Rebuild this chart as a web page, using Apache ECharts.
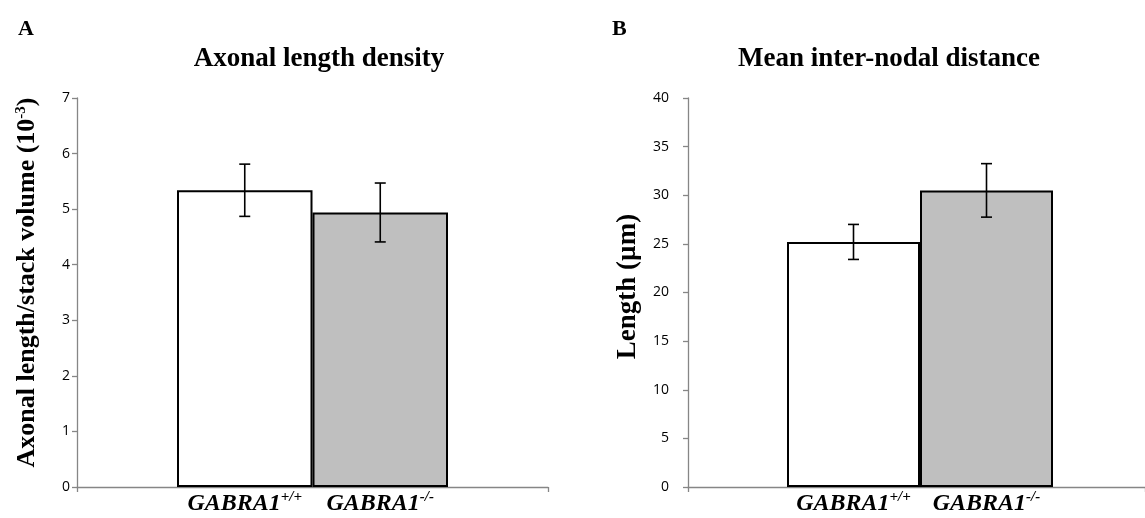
<!DOCTYPE html>
<html>
<head>
<meta charset="utf-8">
<script src="https://cdn.jsdelivr.net/npm/echarts@6/dist/echarts.min.js"></script>
<style>
html,body{margin:0;padding:0;background:#fff;}
#chart{width:1145px;height:518px;}
</style>
</head>
<body>
<div id="chart"></div>
<script>
// ---- data ----
const genotypes = ['GABRA1+/+', 'GABRA1-/-'];
const densityMean = [5.34, 4.94];
const densityErr = [0.47, 0.53];
const distanceMean = [25.2, 30.5];
const distanceErr = [1.8, 2.75];
const densityAxis = { min: 0, max: 7, interval: 1 };
const distanceAxis = { min: 0, max: 40, interval: 5 };
const panelTitles = ['Axonal length density', 'Mean inter-nodal distance'];
const panelLetters = ['A', 'B'];
const fillColors = ['#ffffff', '#bfbfbf'];

const serif = '"Liberation Serif", "Times New Roman", serif';
const sans = '"Open Sans", "Liberation Sans", sans-serif';
const axisGray = '#868686';

function genoLabel(v) {
  const m = v.match(/^(.*?)([+\-]\/[+\-])$/);
  return '{g|' + m[1] + '}{s|' + m[2] + '}';
}
const genoRich = {
  g: { fontFamily: serif, fontWeight: 'bold', fontStyle: 'italic', fontSize: 24, color: '#000' },
  s: { fontFamily: serif, fontWeight: 'bold', fontStyle: 'italic', fontSize: 15, color: '#000', padding: [0, 0, 12, 0] }
};

const chart = echarts.init(document.getElementById('chart'), null, { renderer: 'canvas' });

function frameGrid(left, right) { return { left: left, right: right, top: 98, bottom: 31, containLabel: false }; }

const grids = [
  frameGrid(77, 1145 - 548),
  frameGrid(177, 1145 - 448),
  frameGrid(688, 1145 - 1152),
  frameGrid(787, 1145 - 1053)
];

function frameX(gi) {
  return {
    type: 'category', gridIndex: gi, data: [''],
    axisLine: { lineStyle: { color: axisGray, width: 1.3 } },
    axisTick: { show: true, length: 5, lineStyle: { color: axisGray, width: 1.3 } },
    axisLabel: { show: false }
  };
}
function barX(gi) {
  return {
    type: 'category', gridIndex: gi, data: genotypes,
    axisLine: { show: false }, axisTick: { show: false },
    axisLabel: { formatter: genoLabel, rich: genoRich, margin: 3 }
  };
}
function frameY(gi, ax, name, nameGap, labelMargin, rich, pad, nameSize) {
  return {
    type: 'value', gridIndex: gi, min: ax.min, max: ax.max, interval: ax.interval,
    axisLine: { show: true, lineStyle: { color: axisGray, width: 1.3 } },
    axisTick: { show: true, length: 5, lineStyle: { color: axisGray, width: 1.3 } },
    axisLabel: { fontFamily: sans, fontSize: 14, color: '#000', margin: labelMargin },
    splitLine: { show: false },
    name: name, nameLocation: 'middle', nameGap: nameGap, nameRotate: 90,
    nameTextStyle: { fontFamily: serif, fontWeight: 'bold', fontSize: nameSize, color: '#000', rich: rich, padding: pad }
  };
}
function hiddenY(gi, ax) {
  return { type: 'value', gridIndex: gi, min: ax.min, max: ax.max, interval: ax.interval, show: false, splitLine: { show: false } };
}

const yNameRich = {
  n: { fontFamily: serif, fontWeight: 'bold', fontSize: 26, color: '#000' },
  s: { fontFamily: serif, fontWeight: 'bold', fontSize: 15, color: '#000', padding: [0, 0, 12, 0] }
};

function barSeries(xi, yi, means) {
  return {
    type: 'bar', xAxisIndex: xi, yAxisIndex: yi, barCategoryGap: 0,
    data: means.map((v, i) => ({ value: v, itemStyle: { color: fillColors[i] } })),
    itemStyle: { borderColor: '#000', borderWidth: 2 },
    silent: true, z: 2
  };
}
function errSeries(xi, yi, means, errs) {
  return {
    type: 'custom', xAxisIndex: xi, yAxisIndex: yi, z: 5, silent: true,
    data: means.map((v, i) => [i, v - errs[i], v + errs[i]]),
    renderItem: function (params, api) {
      const lo = api.coord([api.value(0), api.value(1)]);
      const hi = api.coord([api.value(0), api.value(2)]);
      const w = 5.5;
      const st = { stroke: '#000', lineWidth: 1.6 };
      return {
        type: 'group', children: [
          { type: 'line', shape: { x1: hi[0], y1: hi[1], x2: lo[0], y2: lo[1] }, style: st },
          { type: 'line', shape: { x1: hi[0] - w, y1: hi[1], x2: hi[0] + w, y2: hi[1] }, style: st },
          { type: 'line', shape: { x1: lo[0] - w, y1: lo[1], x2: lo[0] + w, y2: lo[1] }, style: st }
        ]
      };
    }
  };
}

const option = {
  backgroundColor: '#fff',
  animation: false,
  title: [
    { text: panelLetters[0], left: 13, top: 13, textStyle: { fontFamily: serif, fontWeight: 'bold', fontSize: 22, color: '#000' } },
    { text: panelLetters[1], left: 607, top: 13, textStyle: { fontFamily: serif, fontWeight: 'bold', fontSize: 22, color: '#000' } },
    { text: panelTitles[0], left: 314, top: 41, textAlign: 'center', textStyle: { fontFamily: serif, fontWeight: 'bold', fontSize: 27, color: '#000' } },
    { text: panelTitles[1], left: 884, top: 41, textAlign: 'center', textStyle: { fontFamily: serif, fontWeight: 'bold', fontSize: 27, color: '#000' } }
  ],
  grid: grids,
  xAxis: [frameX(0), barX(1), frameX(2), barX(3)],
  yAxis: [
    frameY(0, densityAxis, '{n|Axonal length/stack volume (10}{s|-3}{n|)}', 36, 7, yNameRich, [0, 0, 0, 20], 26),
    hiddenY(1, densityAxis),
    frameY(2, distanceAxis, 'Length (µm)', 46, 19, null, [0, 0, 0, 12], 27),
    hiddenY(3, distanceAxis)
  ],
  series: [
    barSeries(1, 1, densityMean),
    errSeries(1, 1, densityMean, densityErr),
    barSeries(3, 3, distanceMean),
    errSeries(3, 3, distanceMean, distanceErr)
  ]
};
chart.setOption(option);
</script>
</body>
</html>
